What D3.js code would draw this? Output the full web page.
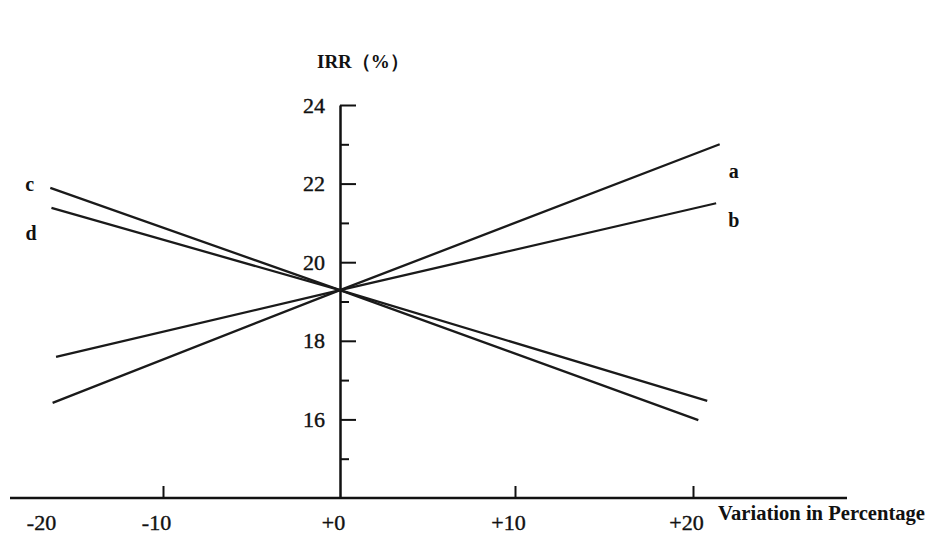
<!DOCTYPE html>
<html>
<head>
<meta charset="utf-8">
<script src="https://cdn.jsdelivr.net/npm/d3@7/dist/d3.min.js"></script>
<style>
  html, body { margin: 0; padding: 0; background: #fff; }
  svg { display: block; }
  text { font-family: "Liberation Serif", "Times New Roman", serif; fill: #111; }
</style>
</head>
<body>
<svg id="chart" width="939" height="536"></svg>
<script>
// ---- data ----
const xTickValues = [-20, -10, 0, 10, 20];
const xTickLabels = ["-20", "-10", "+0", "+10", "+20"];
const yMajorTicks = [16, 18, 20, 22, 24];
const yMinorTicks = [15, 17, 19, 21, 23];
const seriesNames = ["a", "b", "c", "d"];
// each line: [variation %, IRR %] at the left end, at 0, and at the right end
const lineA = [[-19.6, 16.42], [0, 19.29], [21.5, 23.0]];
const lineB = [[-19.3, 17.59], [0, 19.29], [21.3, 21.5]];
const lineC = [[-19.8, 21.89], [0, 19.29], [20.3, 15.98]];
const lineD = [[-19.7, 21.38], [0, 19.29], [20.8, 16.47]];
const yTitle = "IRR（%）";
const xTitle = "Variation in Percentage";

const svg = d3.select("#chart");
const W = 939, H = 536;
svg.append("rect").attr("width", W).attr("height", H).attr("fill", "#fff");

// the printed figure's horizontal spacing is not uniform -> piecewise linear scale
const x = d3.scaleLinear().domain([-20, -10, 0, 10, 20]).range([48, 163, 340, 515, 693]);
const y = d3.scaleLinear().domain([14, 24]).range([498, 105]);

const FONT = '"Liberation Serif", "Times New Roman", serif';

// x axis line
svg.append("line")
  .attr("x1", 10).attr("x2", 847)
  .attr("y1", y(14)).attr("y2", y(14))
  .attr("stroke", "#111").attr("stroke-width", 2.5);

const xAxis = d3.axisBottom(x)
  .tickValues(xTickValues)
  .tickFormat((d, i) => xTickLabels[i])
  .tickSizeInner(-12).tickSizeOuter(0).tickPadding(16);
const gx = svg.append("g").attr("transform", `translate(0,${y(14)})`).call(xAxis);
gx.select(".domain").remove();
gx.selectAll(".tick").filter(d => d === -20 || d === 0).select("line").remove();
gx.selectAll(".tick line").attr("stroke", "#111").attr("stroke-width", 2);
gx.selectAll(".tick text")
  .attr("font-size", 22).attr("dx", -7)
  .style("font-family", FONT).attr("fill", "#111")
  .attr("stroke", "#111").attr("stroke-width", 0.4);

// y axis (ticks to the right, labels to the left)
const yAxis = d3.axisLeft(y)
  .tickValues(yMajorTicks)
  .tickSizeInner(-16).tickSizeOuter(0).tickPadding(15);
const gy = svg.append("g").attr("transform", `translate(${x(0)},0)`).call(yAxis);
gy.select(".domain").attr("stroke", "#111").attr("stroke-width", 2.5);
gy.selectAll(".tick line").attr("stroke", "#111").attr("stroke-width", 2);
gy.selectAll(".tick text")
  .attr("font-size", 22)
  .style("font-family", FONT).attr("fill", "#111")
  .attr("stroke", "#111").attr("stroke-width", 0.4);

const yMinor = d3.axisLeft(y).tickValues(yMinorTicks).tickSizeInner(-9).tickSizeOuter(0).tickFormat("");
const gym = svg.append("g").attr("transform", `translate(${x(0)},0)`).call(yMinor);
gym.select(".domain").remove();
gym.selectAll(".tick line").attr("stroke", "#111").attr("stroke-width", 2);

// lines
const lines = [lineA, lineB, lineC, lineD];
const gen = d3.line().x(d => x(d[0])).y(d => y(d[1]));
svg.append("g").selectAll("path").data(lines).join("path")
  .attr("d", gen)
  .attr("fill", "none").attr("stroke", "#1a1a1a").attr("stroke-width", 2.3);

// series letters
const labelSpec = [
  { end: lineA[2], dx: 9, dy: 34 },
  { end: lineB[2], dx: 12, dy: 24 },
  { end: lineC[0], dx: -25, dy: 3 },
  { end: lineD[0], dx: -26, dy: 32 }
];
svg.append("g").selectAll("text").data(labelSpec).join("text")
  .attr("x", d => x(d.end[0]) + d.dx)
  .attr("y", d => y(d.end[1]) + d.dy)
  .attr("font-size", 20).attr("font-weight", "bold")
  .text((d, i) => seriesNames[i]);

// titles
svg.append("text").attr("x", 317).attr("y", 68)
  .attr("font-size", 19).attr("font-weight", "bold").text(yTitle);
svg.append("text").attr("x", 718).attr("y", 520)
  .attr("font-size", 20).attr("font-weight", "bold")
  .attr("textLength", 207).attr("lengthAdjust", "spacingAndGlyphs").text(xTitle);
</script>
</body>
</html>
